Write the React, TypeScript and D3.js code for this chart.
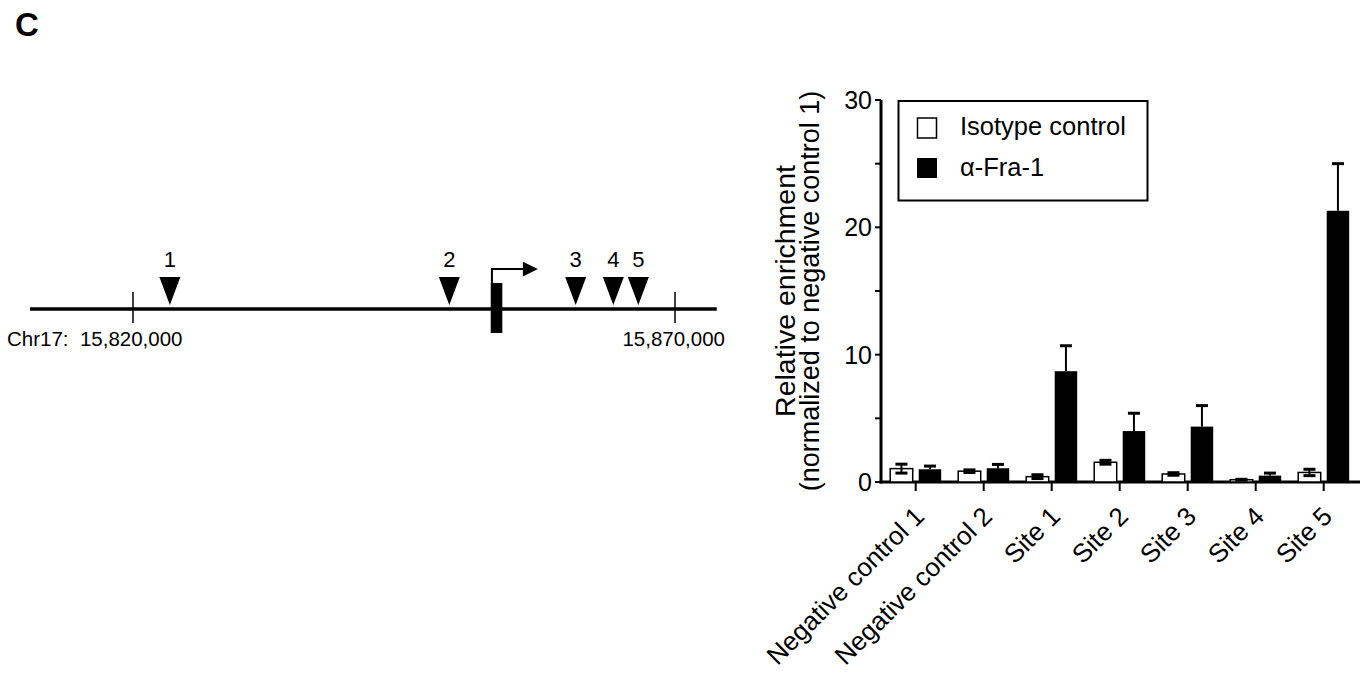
import React from "react";
import * as d3 from "d3";

const groups = ["Negative control 1", "Negative control 2", "Site 1", "Site 2", "Site 3", "Site 4", "Site 5"];
const isotypeMean = [1.05, 0.85, 0.42, 1.55, 0.63, 0.18, 0.75];
const isotypeErr = [0.35, 0.1, 0.15, 0.15, 0.1, 0.03, 0.25];
const fraMean = [1.0, 1.08, 8.7, 4.0, 4.35, 0.5, 21.3];
const fraErr = [0.25, 0.3, 2.0, 1.4, 1.65, 0.2, 3.7];
const yMajorTicks = [0, 10, 20, 30];
const yMinorTicks = [5, 15, 25];
const seriesNames = ["Isotype control", "α-Fra-1"];

const sitePositions = [15823400, 15849180, 15860840, 15864310, 15866615];
const siteLabels = ["1", "2", "3", "4", "5"];
const coordTicks = [15820000, 15870000];
const chromStart = 15810500;
const chromEnd = 15873850;
const geneStart = 15853000;
const geneEnd = 15854070;
const tssArrowEnd = 15857350;

const FONT = "'Liberation Sans', Arial, Helvetica, sans-serif";

export default function App() {
  const y = d3.scaleLinear().domain([0, 30]).range([482, 100]);
  const x = d3.scaleBand().domain(groups).range([881.7, 1357.7]).paddingInner(0).paddingOuter(0);
  const g = d3.scaleLinear().domain([15820000, 15870000]).range([133, 675]);
  const lineY = 309;
  const barW = 22.5;
  const capW = 12;

  const center = (d: string) => (x(d) as number) + x.bandwidth() / 2;

  return (
    <svg width={1372} height={680} style={{ position: "absolute", left: 0, top: 0, background: "#fff" }} fontFamily={FONT}>
      <text x={15} y={36} fontSize={33} fontWeight="bold">C</text>

      {/* Genomic diagram */}
      <line x1={g(chromStart)} x2={g(chromEnd)} y1={lineY} y2={lineY} stroke="#000" strokeWidth={3.5} />
      {coordTicks.map((t) => (
        <line key={t} x1={g(t)} x2={g(t)} y1={292} y2={323} stroke="#000" strokeWidth={1.5} />
      ))}
      <text x={7} y={346} fontSize={20.5} xmlSpace="preserve" style={{ whiteSpace: "pre" }}>{"Chr17:  15,820,000"}</text>
      <text x={725} y={346} fontSize={20.5} textAnchor="end">15,870,000</text>
      {sitePositions.map((p, i) => {
        const cx = g(p);
        return (
          <g key={i}>
            <path d={`M${cx - 10.5},277 L${cx + 10.5},277 L${cx},305 Z`} fill="#000" />
            <text x={cx} y={267} fontSize={22} textAnchor="middle">{siteLabels[i]}</text>
          </g>
        );
      })}
      <rect x={g(geneStart)} y={283} width={g(geneEnd) - g(geneStart)} height={50} fill="#000" />
      <path d={`M${g(geneStart) + 1.2},283 L${g(geneStart) + 1.2},269 L${g(tssArrowEnd) - 14},269`} fill="none" stroke="#000" strokeWidth={2} />
      <path d={`M${g(tssArrowEnd) - 15},261.7 L${g(tssArrowEnd)},269 L${g(tssArrowEnd) - 15},276.5 Z`} fill="#000" />

      {/* Bar chart axes */}
      <line x1={881} x2={881} y1={y(30)} y2={y(0) + 1.5} stroke="#000" strokeWidth={3} />
      <line x1={879.5} x2={1360} y1={y(0)} y2={y(0)} stroke="#000" strokeWidth={3} />
      {yMajorTicks.map((t) => (
        <g key={t}>
          <line x1={875} x2={881} y1={y(t)} y2={y(t)} stroke="#000" strokeWidth={2} />
          <text x={872} y={y(t)} dy="0.36em" fontSize={25} textAnchor="end">{t}</text>
        </g>
      ))}
      {yMinorTicks.map((t) => (
        <line key={t} x1={875} x2={881} y1={y(t)} y2={y(t)} stroke="#000" strokeWidth={2} />
      ))}
      {groups.map((d) => {
        const c = center(d);
        return (
          <g key={d}>
            <line x1={c} x2={c} y1={y(0)} y2={491} stroke="#000" strokeWidth={2} />
            <text transform={`translate(${c + 10},518) rotate(-45)`} fontSize={26} textAnchor="end">{d}</text>
          </g>
        );
      })}

      {/* Bars */}
      {groups.map((d, i) => {
        const c = center(d);
        const wx = c - 25.5;
        const bx = c + 3;
        const wm = isotypeMean[i];
        const we = isotypeErr[i];
        const bm = fraMean[i];
        const be = fraErr[i];
        return (
          <g key={d}>
            <rect x={wx} y={y(wm)} width={barW} height={y(0) - y(wm)} fill="#fff" stroke="#000" strokeWidth={1.5} />
            <line x1={wx + barW / 2} x2={wx + barW / 2} y1={y(wm + we)} y2={y(Math.max(0, wm - we))} stroke="#000" strokeWidth={2} />
            <line x1={wx + barW / 2 - capW / 2} x2={wx + barW / 2 + capW / 2} y1={y(wm + we)} y2={y(wm + we)} stroke="#000" strokeWidth={3} />
            <line x1={wx + barW / 2 - capW / 2} x2={wx + barW / 2 + capW / 2} y1={y(Math.max(0, wm - we))} y2={y(Math.max(0, wm - we))} stroke="#000" strokeWidth={3} />
            <rect x={bx} y={y(bm)} width={barW} height={y(0) - y(bm)} fill="#000" />
            <line x1={bx + barW / 2} x2={bx + barW / 2} y1={y(bm + be)} y2={y(bm)} stroke="#000" strokeWidth={2} />
            <line x1={bx + barW / 2 - capW / 2} x2={bx + barW / 2 + capW / 2} y1={y(bm + be)} y2={y(bm + be)} stroke="#000" strokeWidth={3} />
          </g>
        );
      })}

      {/* Legend */}
      <rect x={898.5} y={101} width={249} height={99.5} fill="#fff" stroke="#000" strokeWidth={2} />
      <rect x={917.5} y={118} width={19} height={20} fill="#fff" stroke="#000" strokeWidth={1.5} />
      <rect x={917} y={158} width={20} height={20} fill="#000" />
      <text x={960} y={135} fontSize={25.5}>{seriesNames[0]}</text>
      <text x={960} y={175.5} fontSize={25.5}>{seriesNames[1]}</text>

      {/* Y label */}
      <g transform="translate(795,291) rotate(-90)">
        <text x={0} y={0} fontSize={28.5} textAnchor="middle">Relative enrichment</text>
        <text x={0} y={24} fontSize={27} textAnchor="middle">(normalized to negative control 1)</text>
      </g>
    </svg>
  );
}
